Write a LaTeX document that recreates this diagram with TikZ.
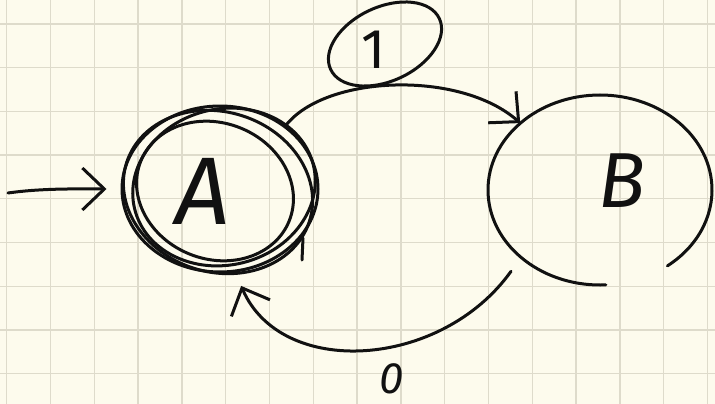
\documentclass[tikz,border=0pt]{standalone}
\usepackage{fontspec}
\newfontfamily\handfont{Fira Sans}
\usetikzlibrary{arrows.meta,shapes.geometric}
\definecolor{paper}{HTML}{FDFBED}
\definecolor{gridc}{HTML}{DEDBCB}
\definecolor{ink}{HTML}{111111}
\tikzset{
  gridline/.style={gridc,line width=1.3pt},
  pen/.style={ink,line width=3pt,line cap=round,line join=round},
  barb/.style={-{Straight Barb[length=22pt,width=42pt]}},
  letter/.style={ink,inner sep=0pt},
  state/.style={ellipse,inner sep=0pt},
}
\begin{document}
\begin{tikzpicture}[x=1pt,y=-1pt]
  \useasboundingbox (0,0) rectangle (715,404);
  \fill[paper] (0,0) rectangle (715,404);
  % grid paper
  \foreach \i in {0,...,16} \draw[gridline] (6.7+43.8*\i,0) -- ++(0,404);
  \foreach \j in {0,...,8} \draw[gridline] (0,24+43.7*\j) -- ++(715,0);

  % state A (accepting, scribbled double circle)
  \node[state,draw,pen,minimum width=196pt,minimum height=166pt] (A) at (220,189) {};
  \draw[pen,rotate around={-18:(218,192)}] (218,192) ellipse[x radius=96,y radius=80];
  \draw[pen,rotate around={14:(224,187)}] (224,187) ellipse[x radius=92,y radius=78];
  \draw[pen,rotate around={-22:(215,191)}] (215,191) ellipse[x radius=80,y radius=68];
  \draw[pen] (303,238) -- (302,260);
  \node[letter,font=\handfont\itshape\fontsize{96}{96}\selectfont] (Atext) at (203,191) {A};

  % state B (open hand-drawn circle)
  \node[state,minimum width=224pt,minimum height=190pt] (B) at (600,190) {};
  \draw[pen] ([shift={(87:112 and 95)}]B.center) arc[start angle=87,end angle=413,x radius=112,y radius=95];
  \node[letter,font=\handfont\itshape\fontsize{78}{78}\selectfont] (Btext) at (622,181) {B};

  % initial arrow
  \coordinate (start) at (8,193);
  \draw[pen,barb,shorten >=14pt] (start) .. controls +(35,-5) and +(-40,0) .. (A.west);

  % transition A -> B on 1
  \draw[pen,barb] (A.44) .. controls +(40,-51) and +(-60,-53) .. (B.140);
  \draw[pen,rotate around={25:(385,44)}] (385,44) ellipse[x radius=60,y radius=37];
  \node[letter,font=\handfont\fontsize{56}{56}\selectfont] (one) at (374,50) {1};

  % transition B -> A on 0
  \draw[pen,barb] ([shift={(-12,12)}]B.222) .. controls +(-70,98) and +(40,93) .. ([shift={(2,14)}]A.283);
  \node[letter,font=\handfont\itshape\fontsize{44}{44}\selectfont] (zero) at (392,379) {0};
\end{tikzpicture}
\end{document}
